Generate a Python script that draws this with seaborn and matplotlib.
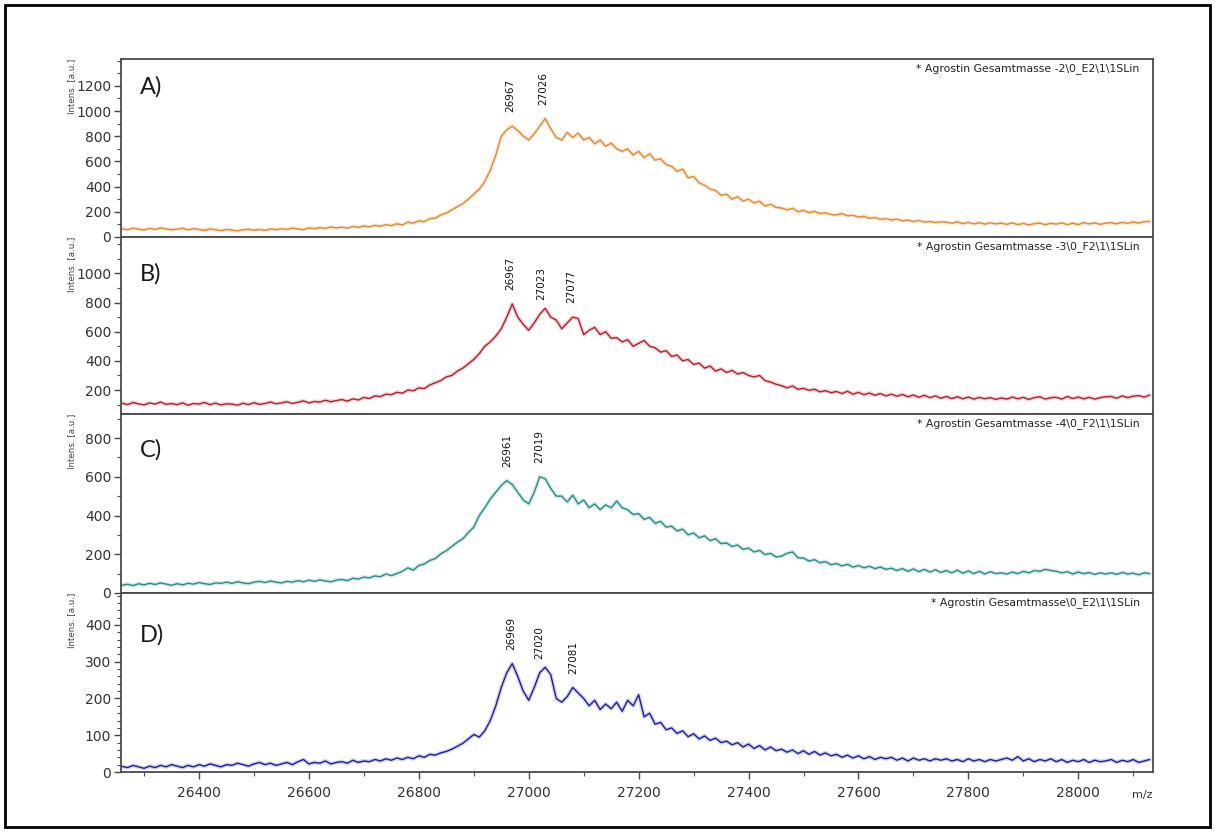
import numpy as np
import pandas as pd
import matplotlib
matplotlib.use("Agg")
import matplotlib.pyplot as plt
import seaborn as sns
from matplotlib.ticker import MultipleLocator, FixedLocator
from matplotlib.patches import Rectangle

# ---------------- data ----------------
mz_start, mz_step = 26260, 10
intens_A = [
    65, 58, 70, 62, 55, 68, 60, 72, 64, 58,
    62, 70, 56, 66, 60, 52, 64, 58, 50, 60,
    55, 48, 58, 62, 54, 60, 52, 64, 58, 66,
    60, 70, 64, 58, 72, 66, 74, 68, 80, 72,
    78, 70, 84, 76, 88, 80, 92, 86, 98, 90,
    105, 96, 118, 110, 128, 122, 145, 150, 175, 190,
    215, 240, 265, 300, 340, 380, 440, 530, 650, 800,
    850, 880, 845, 800, 770, 820, 880, 940, 860, 790,
    770, 830, 790, 825, 770, 790, 740, 770, 720, 745,
    700, 680, 700, 650, 680, 630, 660, 610, 620, 575,
    560, 520, 540, 470, 480, 430, 410, 380, 370, 330,
    340, 300, 320, 285, 300, 270, 285, 245, 260, 235,
    230, 215, 228, 200, 212, 192, 204, 186, 192, 178,
    175, 186, 168, 172, 158, 164, 148, 154, 140, 146,
    135, 142, 128, 134, 122, 132, 118, 124, 114, 120,
    118, 108, 120, 106, 116, 104, 114, 102, 112, 104,
    110, 100, 112, 98, 108, 96, 106, 110, 98, 108,
    102, 112, 98, 110, 98, 114, 104, 112, 100, 110,
    114, 104, 116, 108, 120, 110, 122, 124,
]
intens_B = [
    110, 100, 115, 105, 98, 112, 104, 118, 102, 108,
    100, 112, 96, 108, 104, 115, 100, 110, 98, 106,
    104, 96, 110, 100, 114, 102, 108, 118, 106, 112,
    120, 108, 116, 126, 112, 122, 118, 130, 120, 128,
    135, 124, 140, 132, 150, 142, 160, 155, 172, 168,
    185, 178, 200, 195, 215, 210, 235, 250, 265, 290,
    300, 330, 350, 380, 410, 450, 500, 530, 570, 620,
    700, 790, 700, 650, 610, 660, 720, 760, 700, 680,
    620, 660, 700, 690, 580, 610, 630, 580, 600, 555,
    560, 530, 545, 500, 520, 540, 500, 490, 460, 470,
    430, 440, 400, 410, 375, 385, 350, 365, 330, 345,
    320, 335, 310, 320, 300, 290, 300, 265, 255, 240,
    230, 215, 228, 205, 212, 198, 206, 188, 196, 182,
    190, 176, 192, 172, 184, 168, 180, 164, 176, 160,
    172, 158, 170, 154, 166, 150, 164, 148, 160, 144,
    156, 142, 154, 140, 152, 138, 150, 140, 148, 136,
    146, 138, 152, 140, 150, 136, 148, 154, 138, 148,
    150, 138, 156, 142, 152, 140, 150, 138, 148, 154,
    156, 144, 160, 148, 158, 162, 152, 166,
]
intens_C = [
    40, 45, 38, 48, 42, 50, 44, 52, 46, 40,
    48, 42, 50, 46, 54, 48, 44, 52, 50, 56,
    50, 58, 52, 48, 56, 60, 54, 62, 56, 52,
    60, 56, 64, 58, 66, 60, 68, 62, 58, 66,
    70, 64, 76, 72, 82, 78, 88, 84, 98, 90,
    100, 112, 130, 118, 142, 150, 168, 178, 202, 218,
    240, 262, 280, 312, 340, 400, 440, 485, 520, 555,
    580, 560, 520, 480, 460, 520, 600, 590, 540, 500,
    500, 470, 505, 460, 480, 440, 460, 430, 455, 440,
    475, 440, 430, 405, 410, 380, 390, 360, 370, 340,
    345, 320, 330, 300, 310, 285, 295, 270, 280, 255,
    258, 240, 248, 225, 232, 212, 220, 198, 205, 186,
    190, 205, 212, 182, 180, 165, 172, 156, 162, 146,
    152, 140, 148, 134, 142, 130, 138, 126, 134, 122,
    128, 116, 126, 112, 124, 110, 122, 108, 120, 106,
    116, 104, 118, 102, 114, 100, 112, 98, 110, 100,
    104, 98, 108, 100, 112, 104, 116, 112, 122, 116,
    112, 104, 110, 98, 108, 100, 106, 96, 104, 98,
    104, 96, 106, 98, 102, 94, 104, 100,
]
intens_D = [
    15, 12, 18, 14, 10, 16, 12, 18, 14, 20,
    16, 12, 18, 14, 20, 16, 22, 18, 14, 20,
    18, 24, 20, 16, 22, 26, 20, 24, 18, 22,
    26, 20, 28, 34, 22, 26, 24, 30, 22, 26,
    28, 24, 32, 26, 30, 28, 34, 30, 36, 32,
    38, 34, 40, 36, 44, 40, 48, 46, 52, 56,
    62, 70, 78, 90, 102, 95, 112, 140, 180, 230,
    270, 295, 260, 220, 195, 230, 270, 285, 265, 200,
    190, 205, 230, 215, 200, 180, 195, 170, 185, 172,
    190, 165, 195, 180, 210, 150, 160, 130, 135, 115,
    120, 105, 112, 96, 104, 90, 98, 86, 92, 80,
    84, 74, 80, 68, 76, 64, 72, 60, 68, 58,
    62, 54, 60, 50, 58, 48, 56, 46, 52, 44,
    48, 40, 46, 38, 44, 36, 42, 34, 40, 36,
    40, 32, 38, 30, 38, 32, 36, 30, 36, 32,
    36, 30, 34, 28, 36, 30, 34, 28, 34, 30,
    34, 38, 32, 42, 30, 36, 28, 34, 30, 36,
    28, 34, 26, 32, 28, 34, 26, 32, 28, 30,
    34, 26, 32, 28, 34, 26, 30, 34,
]
panel_letters = ["A)", "B)", "C)", "D)"]
headers = [
    "* Agrostin Gesamtmasse -2\\0_E2\\1\\1SLin",
    "* Agrostin Gesamtmasse -3\\0_F2\\1\\1SLin",
    "* Agrostin Gesamtmasse -4\\0_F2\\1\\1SLin",
    "* Agrostin Gesamtmasse\\0_E2\\1\\1SLin",
]
peaks_A = [26967, 27026]
peaks_B = [26967, 27023, 27077]
peaks_C = [26961, 27019]
peaks_D = [26969, 27020, 27081]
yticks_A = [0, 200, 400, 600, 800, 1000, 1200]
yticks_B = [200, 400, 600, 800, 1000]
yticks_C = [0, 200, 400, 600, 800]
yticks_D = [0, 100, 200, 300, 400]
xticks = [26400, 26600, 26800, 27000, 27200, 27400, 27600, 27800, 28000]

# ---------------- styling ----------------
sns.set_theme(style="ticks")
plt.rcParams['font.family'] = ['DejaVu Sans']

colors = ['#de8a30', '#b01f2e', '#2a8a80', '#1d1d94']
ylims = [(0, 1413), (36, 1249), (0, 924), (0, 487)]
minor_steps = [100, 100, 100, 20]
letter_offsets = [28, 37, 36, 42]   # px below panel top
frame_col = '#4a4a4a'

W, H = 1215, 832
fig = plt.figure(figsize=(W / 100, H / 100), dpi=100)
left_px, right_px = 121, 1153
panel_px = [(59, 237), (237, 414), (414, 593), (593, 772)]

series = [intens_A, intens_B, intens_C, intens_D]
peaks = [peaks_A, peaks_B, peaks_C, peaks_D]
yticks = [yticks_A, yticks_B, yticks_C, yticks_D]

n = len(intens_A)
mz = [mz_start + mz_step * i for i in range(n)]

for i, ((top, bot), vals) in enumerate(zip(panel_px, series)):
    ax = fig.add_axes([left_px / W, 1 - bot / H, (right_px - left_px) / W, (bot - top) / H])
    df = pd.DataFrame({"mz": mz, "intens": vals})
    # soft halo like the original rendering
    sns.lineplot(data=df, x="mz", y="intens", ax=ax, color=colors[i], lw=3.0, alpha=0.18)
    sns.lineplot(data=df, x="mz", y="intens", ax=ax, color=colors[i], lw=1.0)
    ax.set_xlim(mz[0] - 2, mz[-1] + 6)
    ax.set_ylim(*ylims[i])
    ax.set_xlabel("")
    ax.set_ylabel("")
    ax.yaxis.set_major_locator(FixedLocator(yticks[i]))
    ax.yaxis.set_minor_locator(MultipleLocator(minor_steps[i]))
    ax.tick_params(axis='y', which='major', length=5, width=1.0, color=frame_col,
                   labelsize=10, labelcolor='#333333', pad=2, direction='out')
    ax.tick_params(axis='y', which='minor', length=3, width=0.8, color=frame_col, direction='out')
    ax.xaxis.set_major_locator(FixedLocator(xticks))
    ax.xaxis.set_minor_locator(MultipleLocator(100))
    if i < 3:
        ax.tick_params(axis='x', which='both', bottom=False, labelbottom=False)
    else:
        ax.tick_params(axis='x', which='major', length=5, width=1.0, color=frame_col,
                       labelsize=10, labelcolor='#333333', pad=5, direction='out')
        ax.tick_params(axis='x', which='minor', length=3, width=0.8, color=frame_col, direction='out')
    for sp in ax.spines.values():
        sp.set_visible(True)
        sp.set_color(frame_col)
        sp.set_linewidth(1.3)

    # panel letter
    ax.text(0.018, 1 - letter_offsets[i] / (bot - top), panel_letters[i],
            transform=ax.transAxes, ha='left', va='center', fontsize=17,
            family=['Lato', 'DejaVu Sans'], color='#1a1a1a')
    # header
    ax.text(0.987, 1 - 9.5 / (bot - top), headers[i], transform=ax.transAxes,
            ha='right', va='center', fontsize=7.8, color='#222222')
    # y label
    ax.text((72 - left_px) / (right_px - left_px), 1.0, "Intens. [a.u.]",
            transform=ax.transAxes, rotation=90, ha='center', va='top',
            fontsize=6.3, color='#444444')
    # peak labels
    arr_mz = np.array(mz)
    arr_v = np.array(vals)
    for p in peaks[i]:
        sel = np.abs(arr_mz - p) <= 6
        top_val = arr_v[sel].max()
        ax.annotate(str(p), xy=(p, top_val), xytext=(0, 10), textcoords='offset points',
                    rotation=90, ha='center', va='bottom', fontsize=7.5, color='#111111')

fig.text(1142 / W, 1 - 795 / H, "m/z", ha='center', va='center', fontsize=8, color='#333333')

# outer frame around the figure
fig.patches.append(Rectangle((5 / W, 5 / H), (1210 - 5) / W, (827 - 5) / H,
                             transform=fig.transFigure, fill=False, lw=2, edgecolor='black'))

fig.savefig("out.png", dpi=100)
